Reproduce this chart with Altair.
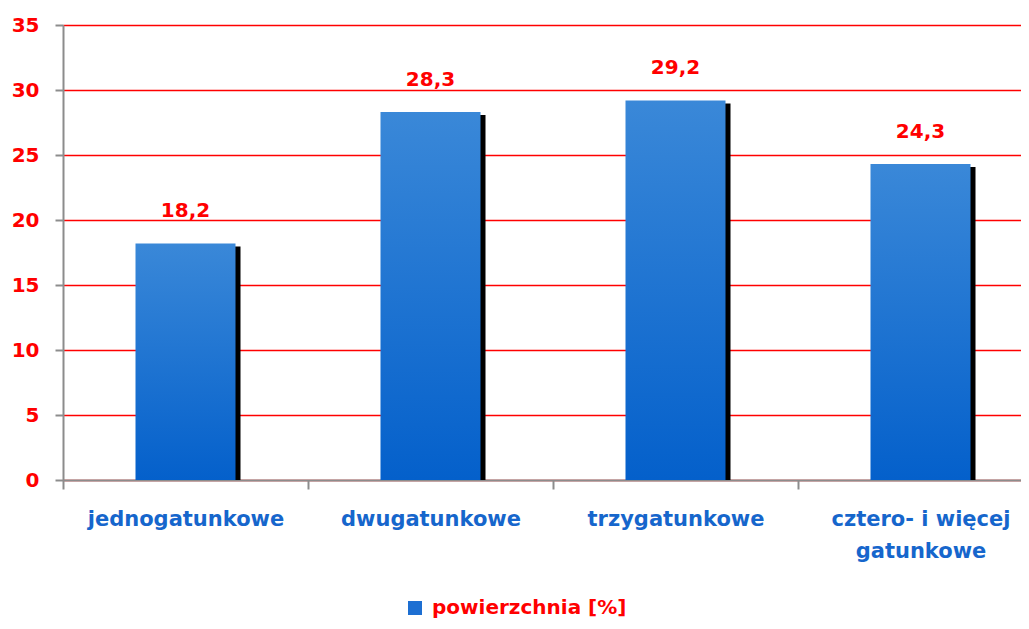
import altair as alt
import pandas as pd

categories = ["jednogatunkowe", "dwugatunkowe", "trzygatunkowe", "cztero- i więcej\ngatunkowe"]
values = [18.2, 28.3, 29.2, 24.3]
value_labels = ["18,2", "28,3", "29,2", "24,3"]
series_name = "powierzchnia [%]"
y_ticks = [0, 5, 10, 15, 20, 25, 30, 35]

df = pd.DataFrame({"cat": categories, "val": values, "lab": value_labels, "series": series_name})

FONT = "DejaVu Sans"
RED = "#ff0000"
BLUE_TXT = "#1666cc"

x_enc = alt.X("cat:N", sort=categories, title=None,
              scale=alt.Scale(range=[0, 980], paddingInner=0, paddingOuter=0),
              axis=alt.Axis(labelAngle=0, labelFont=FONT, labelFontWeight="bold", labelFontSize=21,
                            labelColor=BLUE_TXT, labelExpr="split(datum.label, '\\n')",
                            labelLineHeight=32, labelPadding=19, tickBand="extent", tickSize=9,
                            tickColor="#8c8c8c", tickWidth=2, domainColor="#8c8c8c", domainWidth=2,
                            grid=False, labelBaseline="top", labelLimit=400))
y_enc = alt.Y("val:Q", title=None,
              scale=alt.Scale(domain=[0, 35], nice=False),
              axis=alt.Axis(values=y_ticks, labelFont=FONT, labelFontWeight="bold", labelFontSize=20,
                            labelColor=RED, labelPadding=16, tickSize=8, tickColor="#8c8c8c",
                            tickWidth=2, domainColor="#8c8c8c", domainWidth=2,
                            grid=True, gridColor=RED, gridWidth=1.6))

shadow = alt.Chart(df).mark_bar(color="black", size=100, xOffset=5, yOffset=3, clip=True).encode(
    x=x_enc, y=y_enc)

bars = alt.Chart(df).mark_bar(size=100, color=alt.Gradient(
    gradient="linear",
    stops=[alt.GradientStop(color="#3a88d8", offset=0), alt.GradientStop(color="#0460cb", offset=1)],
    x1=0, x2=0, y1=0, y2=1)).encode(x=x_enc, y="val:Q")

labels = alt.Chart(df).mark_text(font=FONT, fontWeight="bold", fontSize=20, color=RED,
                                 baseline="middle", dy=-32).encode(x=x_enc, y="val:Q", text="lab:N")

legend_layer = alt.Chart(df).mark_point(shape="square", filled=True, size=0, opacity=1).encode(
    x=x_enc, y="val:Q",
    color=alt.Color("series:N", scale=alt.Scale(range=["#1d6fd2"]), title=None,
                    legend=alt.Legend(orient="none", legendX=342, legendY=573, symbolType="square",
                                      symbolSize=196, symbolOpacity=1, labelFont=FONT,
                                      labelFontWeight="bold", labelFontSize=20, labelColor=RED,
                                      labelOffset=7, symbolStrokeWidth=0, labelLimit=400)))

chart = alt.layer(shadow, bars, labels, legend_layer).properties(
    width=958, height=455,
    autosize=alt.AutoSizeParams(type="none"),
    padding={"left": 55, "top": 17, "right": 0, "bottom": 140},
).configure_view(stroke=None).configure(background="white")

chart.save("out.html", embed_options={"renderer": "svg", "actions": False})
